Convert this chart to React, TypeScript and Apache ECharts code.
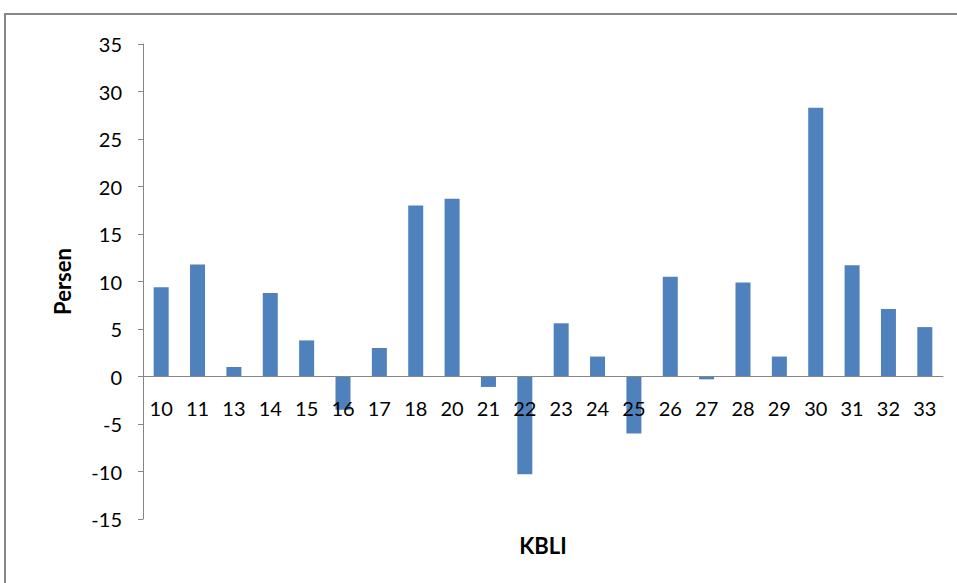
import React, { useEffect, useRef } from "react";
import * as echarts from "echarts";

const categories = ["10", "11", "13", "14", "15", "16", "17", "18", "20", "21", "22", "23", "24", "25", "26", "27", "28", "29", "30", "31", "32", "33"];
const values = [9.4, 11.8, 1.0, 8.8, 3.8, -3.5, 3.0, 18.0, 18.7, -1.1, -10.3, 5.6, 2.1, -6.0, 10.5, -0.3, 9.9, 2.1, 28.3, 11.7, 7.1, 5.2];
const yMin = -15;
const yMax = 35;
const yStep = 5;

export default function App() {
  const ref = useRef<HTMLDivElement>(null);
  useEffect(() => {
    if (!ref.current) return;
    const chart = echarts.init(ref.current, null, { renderer: "svg" });
    const font = "Lato, 'Open Sans', sans-serif";
    chart.setOption({
      animation: false,
      backgroundColor: "#ffffff",
      textStyle: { fontFamily: font },
      graphic: [
        {
          type: "rect",
          shape: { x: 5, y: 14, width: 1100, height: 1100 },
          style: { fill: "none", stroke: "#878787", lineWidth: 2 },
          silent: true,
        },
      ],
      grid: { left: 143, right: 14, top: 44, bottom: 64, containLabel: false, outerBoundsMode: "none" },
      xAxis: {
        type: "category",
        data: categories,
        z: 5,
        name: "KBLI",
        nameLocation: "middle",
        nameGap: 15,
        nameTextStyle: { fontFamily: font, fontSize: 22, fontWeight: "bold", color: "#000" },
        axisLine: { onZero: true, lineStyle: { color: "#868686", width: 1 } },
        axisTick: { show: false },
        axisLabel: { margin: -121, fontSize: 20, color: "#000", fontFamily: font, interval: 0 },
        splitLine: { show: false },
      },
      yAxis: {
        type: "value",
        min: yMin,
        max: yMax,
        interval: yStep,
        name: "Persen",
        nameLocation: "middle",
        nameGap: 70,
        nameRotate: 90,
        nameTextStyle: { fontFamily: font, fontSize: 22, fontWeight: "bold", color: "#000" },
        axisLine: { show: true, lineStyle: { color: "#868686", width: 1 } },
        axisTick: { show: true, length: 5, lineStyle: { color: "#868686" } },
        axisLabel: { margin: 21, fontSize: 20, color: "#000", fontFamily: font },
        splitLine: { show: false },
      },
      series: [
        {
          type: "bar",
          data: values,
          barWidth: 15,
          z: 2,
          itemStyle: { color: "#4F81BD" },
        },
      ],
    });
    return () => chart.dispose();
  }, []);
  return <div ref={ref} style={{ position: "fixed", left: 0, top: 0, width: 957, height: 583 }} />;
}
